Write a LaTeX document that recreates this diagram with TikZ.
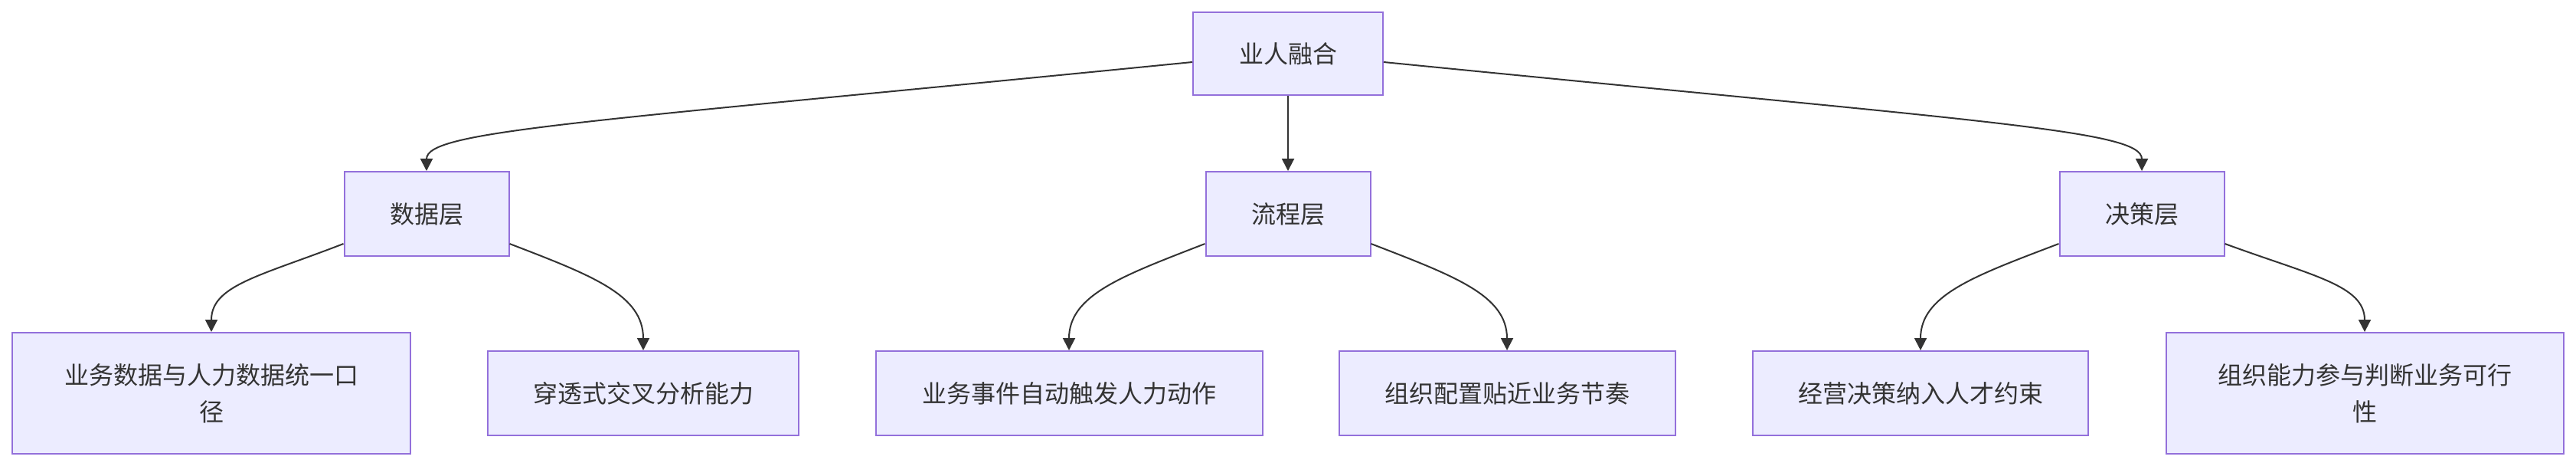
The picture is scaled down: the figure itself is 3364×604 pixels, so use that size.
\documentclass[tikz,border=0pt]{standalone}
\usepackage{fontspec}
\setmainfont{Noto Sans CJK SC}
\usetikzlibrary{arrows.meta}
\definecolor{boxFill}{HTML}{ECECFF}
\definecolor{boxLine}{HTML}{9370DB}
\definecolor{edgeLine}{HTML}{333333}

\begin{document}
\begin{tikzpicture}[x=1pt, y=-1pt,
  box/.style={draw=boxLine, fill=boxFill, line width=2pt, inner sep=0pt,
    align=center, text=edgeLine, font=\fontsize{32}{48}\selectfont},
  edge/.style={draw=edgeLine, line width=2pt, -{Triangle[length=16pt, width=16pt]}}]
  \useasboundingbox (0,0) rectangle (3364,604);

  % top and layers
  \node[box, minimum width=248pt, minimum height=108pt] (fusion) at (1682,70) {业人融合};
  \node[box, minimum width=215pt, minimum height=110pt] (data) at (557,279) {数据层};
  \node[box, minimum width=215pt, minimum height=110pt] (flow) at (1682,279) {流程层};
  \node[box, minimum width=215pt, minimum height=110pt] (decide) at (2797,279) {决策层};

  % leaves
  \node[box, minimum width=520pt, minimum height=158pt] (unify) at (276,513) {业务数据与人力数据统一口\\径};
  \node[box, minimum width=406pt, minimum height=110pt] (cross) at (840,513) {穿透式交叉分析能力};
  \node[box, minimum width=505pt, minimum height=110pt] (trigger) at (1396,513) {业务事件自动触发人力动作};
  \node[box, minimum width=439pt, minimum height=110pt] (rhythm) at (1968,513) {组织配置贴近业务节奏};
  \node[box, minimum width=438pt, minimum height=110pt] (talent) at (2508,513) {经营决策纳入人才约束};
  \node[box, minimum width=519pt, minimum height=158pt] (judge) at (3088,513) {组织能力参与判断业务可行\\性};

  % edges from top
  \draw[edge] ([yshift=-11pt]fusion.west) .. controls (760,160) and (557,170) .. (data.north);
  \draw[edge] (fusion.south) -- (flow.north);
  \draw[edge] ([yshift=-11pt]fusion.east) .. controls (2604,160) and (2797,170) .. (decide.north);

  % edges to leaves
  \draw[edge] ([yshift=17pt]data.south west) .. controls (340,360) and (276,372) .. (unify.north);
  \draw[edge] ([yshift=17pt]data.south east) .. controls (775,360) and (840,385) .. (cross.north);
  \draw[edge] ([yshift=17pt]flow.south west) .. controls (1465,360) and (1396,385) .. (trigger.north);
  \draw[edge] ([yshift=17pt]flow.south east) .. controls (1899,360) and (1968,385) .. (rhythm.north);
  \draw[edge] ([yshift=17pt]decide.south west) .. controls (2578,360) and (2508,385) .. (talent.north);
  \draw[edge] ([yshift=17pt]decide.south east) .. controls (3020,360) and (3088,372) .. (judge.north);
\end{tikzpicture}
\end{document}
